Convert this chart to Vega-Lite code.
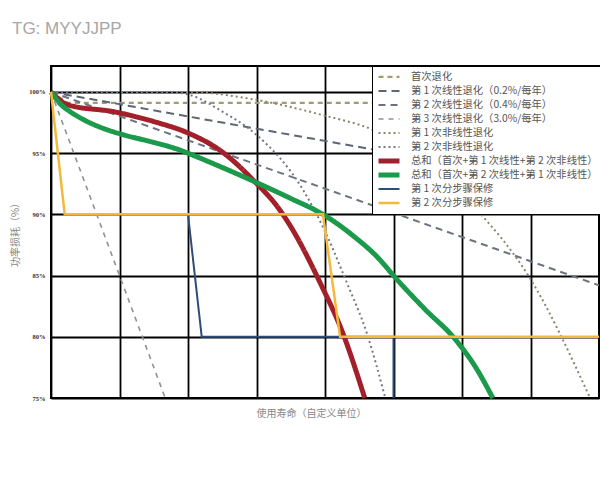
{
  "$schema": "https://vega.github.io/schema/vega-lite/v6.json",
  "autosize": {"type": "none"},
  "padding": {"left": 51, "top": 66, "right": 1, "bottom": 82},
  "width": 548,
  "height": 332,
  "background": "white",
  "title": {
    "text": "TG: MYYJJPP",
    "anchor": "start",
    "frame": "group",
    "dx": -39,
    "offset": 28,
    "fontSize": 17,
    "font": "Liberation Sans",
    "fontWeight": "normal",
    "color": "#a6a6a6"
  },
  "data": {
    "values": [
      {"s": "首次退化", "x": 0, "y": 100},
      {"s": "首次退化", "x": 0.25, "y": 99.1},
      {"s": "首次退化", "x": 8, "y": 99.1},
      {"s": "第 1 次线性退化（0.2%/每年）", "x": 0, "y": 100},
      {"s": "第 1 次线性退化（0.2%/每年）", "x": 8, "y": 92},
      {"s": "第 2 次线性退化（0.4%/每年）", "x": 0, "y": 100},
      {"s": "第 2 次线性退化（0.4%/每年）", "x": 8, "y": 84.2},
      {"s": "第 3 次线性退化（3.0%/每年）", "x": 0, "y": 100},
      {"s": "第 3 次线性退化（3.0%/每年）", "x": 1.667, "y": 75},
      {"s": "第 1 次非线性退化", "x": 0, "y": 100},
      {"s": "第 1 次非线性退化", "x": 2.0, "y": 100},
      {"s": "第 1 次非线性退化", "x": 3.0, "y": 99.35},
      {"s": "第 1 次非线性退化", "x": 3.97, "y": 98.1},
      {"s": "第 1 次非线性退化", "x": 4.7, "y": 96.9},
      {"s": "第 1 次非线性退化", "x": 5.5, "y": 94.2},
      {"s": "第 1 次非线性退化", "x": 6.22, "y": 90.36},
      {"s": "第 1 次非线性退化", "x": 6.99, "y": 84.8},
      {"s": "第 1 次非线性退化", "x": 7.87, "y": 75},
      {"s": "第 2 次非线性退化", "x": 0, "y": 100},
      {"s": "第 2 次非线性退化", "x": 1.7, "y": 100},
      {"s": "第 2 次非线性退化", "x": 2.03, "y": 99.75},
      {"s": "第 2 次非线性退化", "x": 2.5, "y": 98.4},
      {"s": "第 2 次非线性退化", "x": 3.0, "y": 96.5},
      {"s": "第 2 次非线性退化", "x": 3.68, "y": 92.0},
      {"s": "第 2 次非线性退化", "x": 3.97, "y": 88.97},
      {"s": "第 2 次非线性退化", "x": 4.32, "y": 84.4},
      {"s": "第 2 次非线性退化", "x": 4.61, "y": 80.3},
      {"s": "第 2 次非线性退化", "x": 4.88, "y": 75},
      {"s": "总和（首次+第 1 次线性+第 2 次非线性）", "x": 0, "y": 100},
      {"s": "总和（首次+第 1 次线性+第 2 次非线性）", "x": 0.25, "y": 98.94},
      {"s": "总和（首次+第 1 次线性+第 2 次非线性）", "x": 0.93, "y": 98.37},
      {"s": "总和（首次+第 1 次线性+第 2 次非线性）", "x": 1.52, "y": 97.55},
      {"s": "总和（首次+第 1 次线性+第 2 次非线性）", "x": 2.0, "y": 96.65},
      {"s": "总和（首次+第 1 次线性+第 2 次非线性）", "x": 2.5, "y": 95.1},
      {"s": "总和（首次+第 1 次线性+第 2 次非线性）", "x": 2.95, "y": 92.81},
      {"s": "总和（首次+第 1 次线性+第 2 次非线性）", "x": 3.34, "y": 90.36},
      {"s": "总和（首次+第 1 次线性+第 2 次非线性）", "x": 3.5, "y": 89.0},
      {"s": "总和（首次+第 1 次线性+第 2 次非线性）", "x": 3.93, "y": 84.4},
      {"s": "总和（首次+第 1 次线性+第 2 次非线性）", "x": 4.26, "y": 80.3},
      {"s": "总和（首次+第 1 次线性+第 2 次非线性）", "x": 4.58, "y": 75},
      {"s": "总和（首次+第 2 次线性+第 1 次非线性）", "x": 0, "y": 100},
      {"s": "总和（首次+第 2 次线性+第 1 次非线性）", "x": 0.2, "y": 98.7},
      {"s": "总和（首次+第 2 次线性+第 1 次非线性）", "x": 2.0, "y": 95.0},
      {"s": "总和（首次+第 2 次线性+第 1 次非线性）", "x": 3.0, "y": 92.6},
      {"s": "总和（首次+第 2 次线性+第 1 次非线性）", "x": 3.5, "y": 91.3},
      {"s": "总和（首次+第 2 次线性+第 1 次非线性）", "x": 3.97, "y": 90.0},
      {"s": "总和（首次+第 2 次线性+第 1 次非线性）", "x": 4.4, "y": 88.3},
      {"s": "总和（首次+第 2 次线性+第 1 次非线性）", "x": 4.8, "y": 86.3},
      {"s": "总和（首次+第 2 次线性+第 1 次非线性）", "x": 5.0, "y": 85.0},
      {"s": "总和（首次+第 2 次线性+第 1 次非线性）", "x": 5.45, "y": 82.3},
      {"s": "总和（首次+第 2 次线性+第 1 次非线性）", "x": 5.9, "y": 79.8},
      {"s": "总和（首次+第 2 次线性+第 1 次非线性）", "x": 6.2, "y": 77.5},
      {"s": "总和（首次+第 2 次线性+第 1 次非线性）", "x": 6.45, "y": 75},
      {"s": "第 1 次分步骤保修", "x": 2.0, "y": 90},
      {"s": "第 1 次分步骤保修", "x": 2.2, "y": 80},
      {"s": "第 1 次分步骤保修", "x": 5.0, "y": 80},
      {"s": "第 1 次分步骤保修", "x": 5.0, "y": 75},
      {"s": "第 2 次分步骤保修", "x": 0, "y": 100},
      {"s": "第 2 次分步骤保修", "x": 0.2, "y": 90},
      {"s": "第 2 次分步骤保修", "x": 3.97, "y": 90},
      {"s": "第 2 次分步骤保修", "x": 4.22, "y": 80},
      {"s": "第 2 次分步骤保修", "x": 8, "y": 80}
    ]
  },
  "encoding": {
    "x": {
      "field": "x",
      "type": "quantitative",
      "scale": {"domain": [0, 8], "nice": false, "zero": false},
      "axis": {
        "values": [0, 1, 2, 3, 4, 5, 6, 7, 8],
        "labels": false,
        "ticks": false,
        "domain": false,
        "grid": true,
        "title": "使用寿命（自定义单位）",
        "titleX": 260,
        "titlePadding": 10
      }
    },
    "y": {
      "field": "y",
      "type": "quantitative",
      "scale": {"domain": [75, 102.12], "nice": false, "zero": false},
      "axis": {
        "values": [75, 80, 85, 90, 95, 100],
        "labelExpr": "datum.value + '%'",
        "ticks": false,
        "domain": false,
        "grid": true,
        "labelPadding": 6,
        "title": "功率损耗（%）",
        "titlePadding": 8
      }
    },
    "color": {
      "field": "s",
      "type": "nominal",
      "scale": {
        "domain": ["首次退化", "第 1 次线性退化（0.2%/每年）", "第 2 次线性退化（0.4%/每年）", "第 3 次线性退化（3.0%/每年）", "第 1 次非线性退化", "第 2 次非线性退化", "总和（首次+第 1 次线性+第 2 次非线性）", "总和（首次+第 2 次线性+第 1 次非线性）", "第 1 次分步骤保修", "第 2 次分步骤保修"],
        "range": ["#a09c72", "#5e6573", "#6d737e", "#8d929a", "#8c8468", "#737885", "#a3202a", "#1b9a4b", "#2f4b7c", "#f4b93a"]
      },
      "legend": {
        "title": null,
        "orient": "none",
        "legendX": 321,
        "legendY": 0
      }
    },
    "strokeDash": {
      "field": "s",
      "type": "nominal",
      "scale": {
        "domain": ["首次退化", "第 1 次线性退化（0.2%/每年）", "第 2 次线性退化（0.4%/每年）", "第 3 次线性退化（3.0%/每年）", "第 1 次非线性退化", "第 2 次非线性退化", "总和（首次+第 1 次线性+第 2 次非线性）", "总和（首次+第 2 次线性+第 1 次非线性）", "第 1 次分步骤保修", "第 2 次分步骤保修"],
        "range": [[5, 4], [8, 5], [7, 5], [5, 5], [2, 3], [2, 3], [1, 0], [1, 0], [1, 0], [1, 0]]
      },
      "legend": {
        "title": null,
        "orient": "none",
        "legendX": 321,
        "legendY": 0
      }
    },
    "strokeWidth": {
      "field": "s",
      "type": "ordinal",
      "scale": {
        "type": "ordinal",
        "domain": ["首次退化", "第 1 次线性退化（0.2%/每年）", "第 2 次线性退化（0.4%/每年）", "第 3 次线性退化（3.0%/每年）", "第 1 次非线性退化", "第 2 次非线性退化", "总和（首次+第 1 次线性+第 2 次非线性）", "总和（首次+第 2 次线性+第 1 次非线性）", "第 1 次分步骤保修", "第 2 次分步骤保修"],
        "range": [2.2, 2, 2, 1.6, 2, 2, 5, 5, 2, 2.5]
      },
      "legend": {
        "title": null,
        "orient": "none",
        "legendX": 321,
        "legendY": 0
      }
    }
  },
  "layer": [
    {
      "transform": [{"filter": {"field": "s", "oneOf": ["首次退化", "第 1 次线性退化（0.2%/每年）", "第 2 次线性退化（0.4%/每年）", "第 3 次线性退化（3.0%/每年）"]}}],
      "mark": {"type": "line", "interpolate": "linear"}
    },
    {
      "transform": [{"filter": {"field": "s", "oneOf": ["第 1 次非线性退化", "第 2 次非线性退化", "总和（首次+第 1 次线性+第 2 次非线性）", "总和（首次+第 2 次线性+第 1 次非线性）"]}}],
      "mark": {"type": "line", "interpolate": "monotone"}
    },
    {
      "transform": [{"filter": {"field": "s", "oneOf": ["第 1 次分步骤保修", "第 2 次分步骤保修"]}}],
      "mark": {"type": "line", "interpolate": "linear"}
    }
  ],
  "config": {
    "font": "Noto Sans CJK SC",
    "view": {"stroke": "#000000", "strokeWidth": 2},
    "axis": {
      "gridColor": "#000000",
      "gridWidth": 1.8,
      "gridOpacity": 1,
      "labelFont": "Liberation Serif",
      "labelFontSize": 6.5,
      "labelFontWeight": "bold",
      "labelColor": "#333333",
      "titleFont": "Noto Sans CJK SC",
      "titleFontSize": 10,
      "titleFontWeight": "normal",
      "titleColor": "#888888"
    },
    "legend": {
      "symbolType": "stroke",
      "symbolSize": 440,
      "clipHeight": 13.9,
      "labelFont": "Noto Sans CJK SC",
      "labelFontSize": 10.3,
      "labelColor": "#555555",
      "labelLimit": 300,
      "labelOffset": 9,
      "rowPadding": 0,
      "padding": 4,
      "strokeColor": "#000000",
      "fillColor": "#ffffff"
    }
  }
}
